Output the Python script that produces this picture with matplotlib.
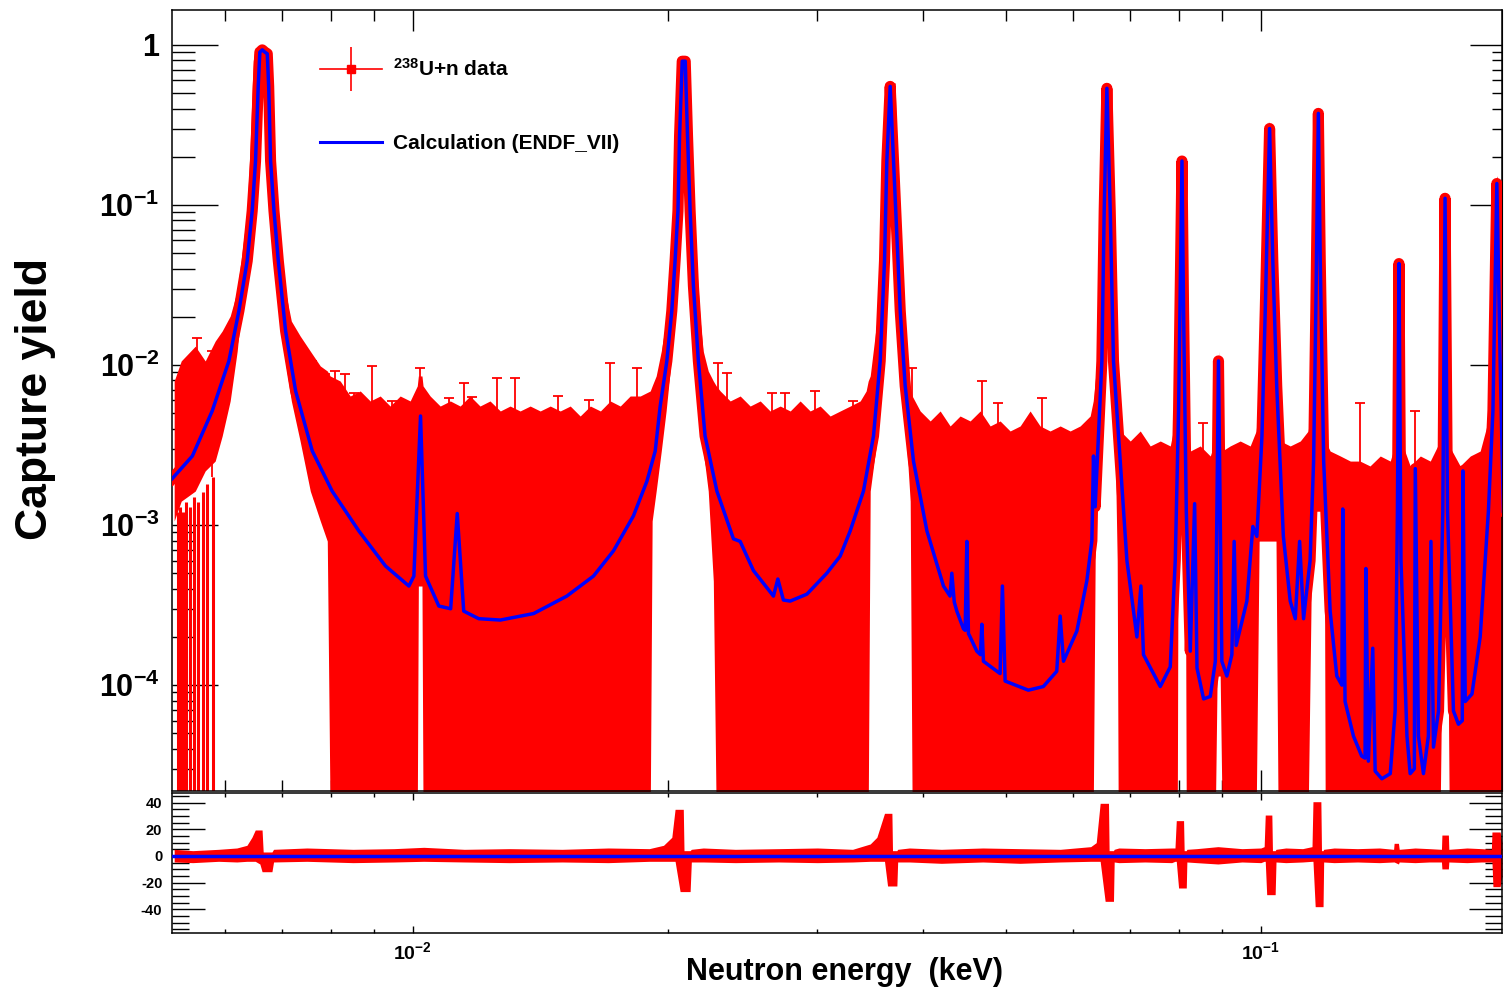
import numpy as np
import matplotlib
matplotlib.use("Agg")
import matplotlib.pyplot as plt
from matplotlib.lines import Line2D
from matplotlib.legend_handler import HandlerTuple
from matplotlib.ticker import (LogLocator, FixedLocator, FixedFormatter,
                               MultipleLocator, NullFormatter)

# ---- fonts (ROOT-like bold Helvetica) ----
plt.rcParams["font.family"] = ["Liberation Sans", "DejaVu Sans"]
plt.rcParams["font.weight"] = "bold"
plt.rcParams["mathtext.fontset"] = "custom"
plt.rcParams["mathtext.rm"] = "Liberation Sans:bold"
plt.rcParams["mathtext.bf"] = "Liberation Sans:bold"
plt.rcParams["mathtext.it"] = "Liberation Sans:bold"
plt.rcParams["mathtext.sf"] = "Liberation Sans:bold"
plt.rcParams["axes.unicode_minus"] = False

RED = "#ff0000"
BLUE = "#0000ff"

# ---- DATA (energies in eV) ----
B = 1.5e-5  # lower end of error bars running past the bottom of the axis

# calculated capture yield (ENDF_VII): (energy eV, yield)
calc = [
    (5.202, 1.95e-3), (5.495, 2.70e-3), (5.799, 5.16e-3), (6.068, 1.06e-2),
    (6.235, 2.18e-2), (6.377, 4.47e-2), (6.464, 9.17e-2), (6.523, 0.188),
    (6.571, 0.554), (6.60, 0.90), (6.643, 0.93), (6.69, 0.90), (6.734, 0.88),
    (6.76, 0.55), (6.795, 0.188), (6.858, 9.17e-2), (6.939, 4.47e-2),
    (7.078, 1.63e-2), (7.273, 6.88e-3), (7.610, 2.9e-3), (8.031, 1.63e-3),
    (8.637, 9.17e-4), (9.283, 5.55e-4), (9.892, 4.16e-4), (10.027, 4.8e-4),
    (10.21, 4.8e-3), (10.35, 4.8e-4), (10.73, 3.12e-4), (11.08, 3.0e-4),
    (11.28, 1.18e-3), (11.48, 2.9e-4), (11.96, 2.6e-4), (12.68, 2.55e-4),
    (13.88, 2.8e-4), (15.19, 3.6e-4), (16.33, 4.8e-4), (17.24, 6.9e-4),
    (18.20, 1.14e-3), (18.88, 1.88e-3), (19.31, 2.9e-3), (19.57, 5.5e-3),
    (19.93, 1.06e-2), (20.20, 2.18e-2), (20.38, 4.47e-2), (20.54, 9.17e-2),
    (20.63, 0.27), (20.78, 0.79), (20.95, 0.79), (21.08, 0.27),
    (21.23, 9.17e-2), (21.42, 3.12e-2), (21.71, 1.06e-2), (22.11, 3.6e-3),
    (22.83, 1.63e-3), (23.88, 8.2e-4), (24.32, 7.9e-4), (25.21, 5.2e-4),
    (26.62, 3.6e-4), (26.94, 4.6e-4), (27.35, 3.4e-4), (27.86, 3.35e-4),
    (29.15, 3.7e-4), (30.77, 5.0e-4), (31.91, 6.4e-4), (32.79, 9.2e-4),
    (33.99, 1.63e-3), (34.93, 3.6e-3), (35.57, 1.06e-2), (35.99, 4.47e-2),
    (36.22, 0.188), (36.55, 0.55), (36.88, 0.188), (37.22, 6.4e-2),
    (37.56, 2.18e-2), (38.07, 7.4e-3), (38.94, 2.5e-3), (40.38, 9.2e-4),
    (42.24, 4.16e-4), (43.0, 3.6e-4), (43.21, 5.0e-4), (43.5, 3.3e-4),
    (43.80, 2.9e-4), (44.59, 2.25e-4), (44.8, 2.2e-4), (45.01, 7.9e-4),
    (45.2, 2.1e-4), (45.41, 2.0e-4), (46.24, 1.63e-4), (46.7, 1.55e-4),
    (46.88, 2.4e-4), (47.08, 1.41e-4), (49.26, 1.18e-4), (49.57, 4.16e-4),
    (49.94, 1.06e-4), (53.19, 9.3e-5), (55.40, 9.8e-5), (57.45, 1.22e-4),
    (57.99, 2.7e-4), (58.51, 1.41e-4), (60.68, 2.18e-4), (62.35, 4.5e-4),
    (63.2, 8.0e-4), (63.48, 2.7e-3), (63.77, 1.3e-3), (64.94, 1.06e-2),
    (65.35, 9.17e-2), (65.83, 0.535), (66.43, 9.17e-2), (67.02, 1.06e-2),
    (67.95, 3.6e-3), (69.51, 6.0e-4), (71.42, 2.0e-4), (72.20, 4.16e-4),
    (72.71, 1.55e-4), (76.10, 9.8e-5), (78.19, 1.3e-4), (79.26, 6.0e-4),
    (79.98, 5.2e-3), (80.35, 3.1e-2), (80.72, 0.188), (81.07, 2.18e-2),
    (81.67, 1.22e-3), (82.56, 1.63e-4), (83.54, 1.36e-3), (84.08, 1.28e-4),
    (85.60, 8.2e-5), (87.17, 8.5e-5), (88.37, 1.41e-4), (89.13, 1.06e-2),
    (89.95, 1.41e-4), (91.18, 1.14e-4), (92.43, 1.55e-4), (93.01, 7.9e-4),
    (93.52, 1.77e-4), (96.27, 3.35e-4), (97.85, 9.8e-4), (98.92, 8.5e-4),
    (100.3, 3.6e-3), (101.2, 2.18e-2), (102.4, 0.30), (103.3, 4.47e-2),
    (104.4, 7.4e-3), (106.3, 8.5e-4), (108.3, 3.35e-4), (109.8, 2.6e-4),
    (111.1, 7.9e-4), (112.3, 2.6e-4), (114.3, 6.0e-4), (115.4, 2.5e-3),
    (116.1, 2.18e-2), (116.9, 0.373), (117.5, 4.47e-2), (118.6, 2.5e-3),
    (120.7, 2.9e-4), (122.9, 1.14e-4), (124.6, 1.0e-4), (124.9, 1.26e-3),
    (125.7, 7.9e-5), (128.6, 4.8e-5), (131.5, 3.6e-5), (132.7, 3.5e-5),
    (133.0, 5.35e-4), (133.9, 3.35e-5), (135.5, 1.7e-4), (136.4, 2.9e-5),
    (138.9, 2.6e-5), (142.1, 2.8e-5), (144.0, 6.9e-5), (144.9, 1.22e-3),
    (145.5, 4.3e-2), (146.3, 6.0e-4), (148.7, 4.8e-5), (150.0, 2.8e-5),
    (151.7, 3.0e-5), (152.1, 2.25e-3), (153.4, 4.8e-5), (155.5, 2.8e-5),
    (157.6, 4.8e-5), (158.7, 7.9e-4), (159.8, 4.1e-5), (162.0, 6.9e-5),
    (163.9, 1.22e-3), (164.9, 0.11), (166.0, 1.22e-3), (168.7, 6.9e-5),
    (171.0, 5.7e-5), (172.8, 6.0e-5), (173.1, 2.18e-3), (174.2, 7.9e-5),
    (177.4, 8.8e-5), (181.4, 2.0e-4), (185.5, 1.22e-3), (187.8, 5.2e-3),
    (189.8, 0.136), (191.5, 1.06e-2), (193.2, 1.22e-3),
]

# measured 238U+n data, envelope of points and error bars: (energy eV, top, bottom)
data_band = [
    (5.230, 7.94e-3, 1.06e-3), (5.331, 1.06e-2, 1.41e-3), (5.538, 1.31e-2, 1.63e-3),
    (5.690, 1.06e-2, 2.18e-3), (5.846, 1.41e-2, 2.51e-3), (5.958, 1.63e-2, 3.6e-3),
    (6.089, 2.02e-2, 5.96e-3), (6.206, 2.9e-2, 1.22e-2), (6.291, 5.16e-2, 2.51e-2),
    (6.377, 9.17e-2, 6.4e-2), (6.430, 0.251, 0.152), (6.482, 0.794, 0.447),
    (6.518, 0.958, 0.794), (6.753, 0.958, 0.794), (6.808, 0.447, 0.122),
    (6.845, 0.234, 6.4e-2), (6.901, 0.106, 3.35e-2), (6.958, 6.4e-2, 2.18e-2),
    (7.072, 2.9e-2, 1.06e-2), (7.189, 1.88e-2, 5.96e-3), (7.362, 1.52e-2, 3.35e-3),
    (7.569, 1.22e-2, 1.63e-3), (7.777, 9.86e-3, 1.06e-3), (7.926, 9.17e-3, 7.94e-4),
    (7.988, 8.54e-3, B), (8.209, 7.94e-3, B), (8.435, 6.4e-3, B), (8.668, 6.88e-3, B),
    (8.906, 5.96e-3, B), (9.151, 6.4e-3, B), (9.402, 5.54e-3, B), (9.661, 6.4e-3, B),
    (9.927, 5.96e-3, B), (10.12, 7.4e-3, B), (10.15, 8.54e-3, 4.16e-4),
    (10.25, 8.54e-3, 4.16e-4), (10.28, 7.4e-3, B), (10.48, 6.4e-3, B),
    (10.77, 5.54e-3, B), (11.07, 5.96e-3, B), (11.37, 5.54e-3, B), (11.68, 6.4e-3, B),
    (12.00, 5.54e-3, B), (12.33, 5.96e-3, B), (12.68, 5.16e-3, B), (13.02, 5.54e-3, B),
    (13.38, 5.16e-3, B), (13.75, 5.54e-3, B), (14.13, 5.16e-3, B), (14.52, 5.54e-3, B),
    (14.92, 5.16e-3, B), (15.33, 5.54e-3, B), (15.75, 4.8e-3, B), (16.19, 5.54e-3, B),
    (16.64, 5.16e-3, B), (17.09, 5.96e-3, B), (17.56, 5.54e-3, B), (18.04, 6.4e-3, B),
    (18.54, 6.4e-3, B), (19.05, 6.88e-3, B), (19.15, 7.4e-3, 1.06e-3),
    (19.36, 8.54e-3, 1.63e-3), (19.63, 1.22e-2, 2.9e-3), (19.89, 1.88e-2, 5.16e-3),
    (20.11, 3.12e-2, 9.17e-3), (20.27, 5.96e-2, 1.63e-2), (20.44, 0.163, 3.35e-2),
    (20.55, 0.447, 7.94e-2), (20.66, 0.829, 0.29), (21.12, 0.829, 0.251),
    (21.23, 0.335, 5.16e-2), (21.35, 0.163, 2.51e-2), (21.52, 5.96e-2, 1.22e-2),
    (21.82, 1.88e-2, 5.96e-3), (22.00, 1.22e-2, 2.9e-3), (22.30, 9.17e-3, 1.63e-3),
    (22.61, 7.94e-3, 4.47e-4), (22.79, 7.4e-3, B), (23.04, 6.88e-3, B),
    (23.67, 5.96e-3, B), (24.32, 6.4e-3, B), (24.99, 5.54e-3, B), (25.68, 5.96e-3, B),
    (26.38, 5.16e-3, B), (27.11, 5.54e-3, B), (27.86, 5.16e-3, B), (28.62, 5.96e-3, B),
    (29.41, 5.16e-3, B), (30.22, 5.54e-3, B), (31.05, 4.8e-3, B), (31.91, 5.16e-3, B),
    (32.79, 5.54e-3, B), (33.69, 5.96e-3, B), (34.24, 6.88e-3, B), (34.43, 7.94e-3, B),
    (34.62, 8.54e-3, 1.63e-3), (35.25, 1.88e-2, 3.35e-3), (35.57, 3.87e-2, 5.96e-3),
    (35.73, 9.17e-2, 1.06e-2), (35.89, 0.218, 1.88e-2), (36.06, 0.579, 4.47e-2),
    (36.55, 0.579, 0.387), (37.05, 0.579, 5.96e-2), (37.22, 0.188, 2.9e-2),
    (37.56, 4.47e-2, 1.22e-2), (38.07, 1.41e-2, 4.47e-3), (38.59, 7.4e-3, 1.41e-3),
    (38.80, 6.4e-3, B), (39.65, 5.16e-3, B), (40.74, 4.47e-3, B), (41.86, 5.16e-3, B),
    (43.01, 4.16e-3, B), (44.19, 4.8e-3, B), (45.41, 4.47e-3, B), (46.67, 5.16e-3, B),
    (47.95, 4.16e-3, B), (49.26, 4.47e-3, B), (50.62, 3.87e-3, B), (52.02, 4.16e-3, B),
    (53.44, 5.16e-3, B), (54.91, 4.16e-3, B), (56.42, 3.87e-3, B), (57.99, 4.16e-3, B),
    (59.58, 3.87e-3, B), (61.22, 4.16e-3, B), (62.91, 4.8e-3, B), (63.43, 5.96e-3, B),
    (63.77, 7.94e-3, 6.0e-4), (64.30, 1.22e-2, 3.35e-3), (64.94, 2.9e-2, 5.96e-3),
    (65.23, 0.106, 2.51e-2), (65.44, 0.554, 0.106), (65.83, 0.554, 0.387),
    (66.61, 0.554, 5.16e-2), (66.92, 5.16e-2, 7.94e-3), (67.34, 1.06e-2, 2.9e-3),
    (67.70, 5.16e-3, 6.0e-4), (67.89, 4.47e-3, B), (68.26, 3.87e-3, B),
    (70.14, 3.35e-3, B), (72.07, 3.87e-3, B), (74.05, 3.12e-3, B), (76.10, 3.35e-3, B),
    (78.19, 3.12e-3, B), (79.26, 4.47e-3, B), (79.70, 4.47e-3, B),
    (79.88, 7.94e-3, 1.06e-3), (80.35, 5.96e-2, 1.06e-3), (80.64, 0.202, 1.06e-3),
    (81.08, 5.96e-2, 1.06e-3), (81.45, 4.47e-3, 1.06e-3), (81.67, 3.35e-3, B),
    (82.56, 2.9e-3, B), (84.82, 3.12e-3, B), (87.17, 2.7e-3, B), (88.37, 3.35e-3, B),
    (88.81, 4.47e-3, 1.14e-4), (89.18, 1.22e-2, 1.14e-4), (89.54, 4.47e-3, 1.14e-4),
    (90.03, 2.9e-3, B), (92.00, 3.12e-3, B), (94.54, 3.35e-3, B), (97.14, 3.12e-3, B),
    (98.73, 3.87e-3, B), (99.54, 5.96e-3, 7.94e-4), (100.35, 1.41e-2, 7.94e-4),
    (101.2, 5.16e-2, 7.94e-4), (101.7, 0.251, 7.94e-4), (102.1, 0.335, 7.94e-4),
    (102.8, 0.251, 7.94e-4), (103.4, 5.16e-2, 7.94e-4), (104.2, 7.94e-3, 7.94e-4),
    (104.8, 3.87e-3, B), (105.4, 3.35e-3, B), (108.3, 3.12e-3, B), (111.3, 3.35e-3, B),
    (113.7, 3.87e-3, B), (115.0, 5.96e-3, 1.22e-3), (115.9, 5.16e-2, 1.22e-3),
    (116.5, 0.387, 1.22e-3), (117.3, 0.387, 1.22e-3), (117.8, 5.16e-2, 1.22e-3),
    (118.8, 4.47e-3, 1.22e-3), (119.1, 3.35e-3, B), (120.7, 2.9e-3, B),
    (124.1, 2.7e-3, B), (127.5, 2.51e-3, B), (130.9, 2.51e-3, B), (134.5, 2.34e-3, B),
    (138.3, 2.7e-3, B), (142.1, 2.51e-3, B), (144.4, 3.35e-3, B), (145.5, 4.8e-2, B),
    (146.4, 3.35e-3, B), (150.0, 2.34e-3, B), (154.2, 2.7e-3, B), (158.4, 2.51e-3, B),
    (162.7, 3.35e-3, B), (164.1, 2.51e-2, 6.0e-4), (164.9, 0.114, 6.0e-4),
    (165.9, 2.51e-2, 6.0e-4), (166.8, 3.12e-3, B), (171.8, 2.34e-3, B),
    (176.6, 2.7e-3, B), (181.4, 2.9e-3, B), (185.4, 4.47e-3, B), (187.4, 1.63e-2, B),
    (189.0, 0.141, B), (190.0, 0.152, B), (191.5, 2.51e-2, B), (192.5, 1.22e-2, B),
]

# isolated long error bars at the low-energy end: (energy eV, top)
long_bars = [
    (5.290, 1.2e-3), (5.316, 1.3e-3), (5.360, 1.2e-3), (5.404, 1.4e-3),
    (5.463, 1.3e-3), (5.523, 1.5e-3), (5.583, 1.4e-3), (5.655, 1.6e-3),
    (5.721, 1.8e-3), (5.815, 2.0e-3),
]

# single error bars sticking out above the data band: (energy eV, top)
tall_bars = [
    (5.568, 1.48e-2), (5.799, 1.22e-2), (7.610, 1.06e-2), (7.883, 8.79e-3),
    (8.096, 9.17e-3), (8.321, 8.79e-3), (8.527, 6.68e-3), (8.954, 9.86e-3),
    (9.454, 5.96e-3), (10.20, 9.58e-3), (11.04, 6.22e-3), (11.50, 7.72e-3),
    (11.75, 6.31e-3), (12.57, 8.3e-3), (13.20, 8.3e-3), (14.84, 6.4e-3),
    (16.14, 6.05e-3), (17.09, 1.03e-2), (18.39, 9.58e-3), (22.91, 1.03e-2),
    (23.48, 8.91e-3), (26.53, 6.68e-3), (27.48, 6.68e-3), (29.81, 6.88e-3),
    (33.05, 5.96e-3), (38.80, 9.58e-3), (46.92, 7.94e-3), (48.99, 5.79e-3),
    (55.21, 6.22e-3), (85.54, 4.34e-3), (130.9, 5.79e-3), (152.1, 5.16e-3),
]

# residuals (data - calc)/error: (energy eV, top, bottom)
residual_band = [
    (5.23, 5, -4.5), (5.5, 4, -5), (5.9, 5, -4), (6.2, 6, -4.5),
    (6.372, 8, -4), (6.459, 14, -4), (6.518, 19.5, -4), (6.60, 19.5, -6),
    (6.64, 19.5, -11.8), (6.66, 3, -11.8), (6.82, 3, -11.8), (6.85, 5, -4.5),
    (7.5, 6, -4), (8.5, 5, -5), (9.5, 5.5, -4.5), (10.3, 6.5, -4), (11.5, 5, -4.5),
    (13.0, 5.5, -5), (15.0, 5, -4.5), (17.0, 6, -5), (19.0, 5.5, -4),
    (19.75, 8, -4), (20.20, 14, -4), (20.38, 35, -4), (20.66, 35, -26.7),
    (20.84, 35, -26.7), (20.88, 4, -26.7), (21.23, 4, -26.7), (21.30, 5, -4.5),
    (22.0, 6, -4.5), (24.0, 5, -5), (27.0, 5.5, -4.5), (30.0, 6, -5), (33.0, 5, -4.5),
    (34.62, 9, -4), (35.25, 14, -4), (35.99, 32, -4), (36.29, 32, -22.5),
    (36.72, 32, -22.5), (36.78, 4, -22.5), (37.22, 4, -22.5), (37.30, 5, -4.5),
    (38.5, 6, -4.5), (42.0, 5, -5.5), (47.0, 6, -4.5), (52.0, 5.5, -5.5),
    (58.0, 5, -4.5), (63.0, 7, -4), (63.95, 10, -4), (64.64, 39.5, -4),
    (65.52, 39.5, -34), (66.12, 39.5, -34), (66.23, 4, -34), (67.02, 4, -34),
    (67.15, 5, -4.5), (68.0, 6, -5), (73.0, 5.5, -4.5), (78.5, 6, -5),
    (79.2, 6, -4), (79.48, 26.5, -4), (79.98, 26.5, -24), (81.07, 26.5, -24),
    (81.20, 4, -24), (81.67, 4, -24), (81.80, 5, -4.5), (84.0, 5.5, -5),
    (89.0, 7, -6), (95.0, 5.5, -4.5), (100.0, 6, -5), (100.9, 7, -4),
    (101.2, 30.7, -4), (101.6, 30.7, -29), (103.03, 30.7, -29), (103.2, 4, -29),
    (103.96, 4, -29), (104.2, 5, -4.5), (107.0, 6, -5), (112.0, 5.5, -4.5),
    (114.9, 7, -4), (115.2, 40.7, -4), (115.9, 40.7, -38), (117.7, 40.7, -38),
    (117.9, 4, -38), (118.4, 4, -38), (118.6, 5, -4.5), (122.0, 6, -5),
    (130.0, 5.5, -4.5), (138.0, 6, -5), (143.4, 5, -4.5), (143.6, 9.5, -4.5),
    (145.3, 9.5, -6), (145.6, 5, -4.5), (152.0, 6, -5), (158.0, 5.5, -4.5),
    (163.3, 5, -4.5), (163.5, 15.7, -9.7), (166.4, 15.7, -9.7), (166.6, 5, -4.5),
    (175.0, 6, -5), (182.0, 5.5, -4.5), (187.0, 5, -4.5), (187.3, 18, -4.5),
    (187.8, 18, -23), (191.5, 18, -23), (192.5, 10, -15),
]

y_major = [1e-4, 1e-3, 1e-2, 1e-1, 1.0]
y_labels = ["$10^{-4}$", "$10^{-3}$", "$10^{-2}$", "$10^{-1}$", "1"]
x_major = [1e-2, 1e-1]
x_labels = ["$10^{-2}$", "$10^{-1}$"]
r_major = [-40, -20, 0, 20, 40]
r_labels = ["-40", "-20", "0", "20", "40"]

# ---- unpack ----
calc_e = np.array([p[0] for p in calc]) / 1000.0
calc_y = np.array([p[1] for p in calc])
band_e = np.array([p[0] for p in data_band]) / 1000.0
band_hi = np.array([p[1] for p in data_band])
band_lo = np.array([p[2] for p in data_band])
bar_e = np.array([p[0] for p in long_bars]) / 1000.0
bar_top = np.array([p[1] for p in long_bars])
tall_e = np.array([p[0] for p in tall_bars]) / 1000.0
tall_top = np.array([p[1] for p in tall_bars])
res_e = np.array([p[0] for p in residual_band]) / 1000.0
res_hi = np.array([p[1] for p in residual_band])
res_lo = np.array([p[2] for p in residual_band])

XMIN, XMAX = 5.20e-3, 0.1925

fig = plt.figure(figsize=(15.04, 9.92), dpi=100)
ax = fig.add_axes([0.1144, 0.2026, 0.8843, 0.7873])
axr = fig.add_axes([0.1144, 0.0598, 0.8843, 0.1405], sharex=ax)

# ---- main panel ----
ax.fill_between(band_e, band_lo, band_hi, color=RED, lw=0, zorder=2)
ax.vlines(bar_e, B, bar_top, colors=RED, lw=2.2, zorder=2)
ax.vlines(tall_e, 2e-3, tall_top, colors=RED, lw=1.3, zorder=2)
ax.plot(tall_e, tall_top, ls="none", marker="_", ms=7, mew=1.3, color=RED, zorder=2)
ax.plot(calc_e, calc_y, color=RED, lw=8, solid_joinstyle="round", zorder=3)
ax.plot(calc_e, calc_y, color=BLUE, lw=2.5, zorder=4)

ax.set_xscale("log")
ax.set_yscale("log")
ax.set_xlim(XMIN, XMAX)
ax.set_ylim(2.18e-5, 1.65)

ax.yaxis.set_major_locator(FixedLocator(y_major))
ax.yaxis.set_major_formatter(FixedFormatter(y_labels))
ax.yaxis.set_minor_locator(LogLocator(base=10, subs=np.arange(2, 10), numticks=20))
ax.yaxis.set_minor_formatter(NullFormatter())
ax.tick_params(axis="y", which="major", direction="in", length=33, width=1,
               labelsize=22, pad=9, left=True, right=False)
ax.tick_params(axis="y", which="minor", direction="in", length=16.5, width=1,
               left=True, right=False)

ax.xaxis.set_major_locator(FixedLocator(x_major))
ax.xaxis.set_minor_locator(LogLocator(base=10, subs=np.arange(2, 10), numticks=20))
ax.tick_params(axis="x", which="major", direction="in", length=15, width=1,
               top=True, bottom=True, labelbottom=False)
ax.tick_params(axis="x", which="minor", direction="in", length=8, width=1,
               top=True, bottom=True, labelbottom=False)

sec = ax.secondary_yaxis("right")
sec.yaxis.set_major_locator(FixedLocator(y_major))
sec.yaxis.set_minor_locator(LogLocator(base=10, subs=np.arange(2, 10), numticks=20))
sec.yaxis.set_major_formatter(NullFormatter())
sec.yaxis.set_minor_formatter(NullFormatter())
sec.tick_params(which="major", direction="in", length=23, width=1)
sec.tick_params(which="minor", direction="in", length=7, width=1)

for s in ax.spines.values():
    s.set_linewidth(1.1)

h_data = (Line2D([], [], color=RED, lw=1.2, marker="s", ms=6),
          Line2D([], [], color=RED, ls="none", marker="|", ms=32, mew=1.2))
h_calc = Line2D([], [], color=BLUE, lw=2.2)
ax.legend([h_data, h_calc], ["$^{238}$U+n data", "Calculation (ENDF_VII)"],
          handler_map={tuple: HandlerTuple(ndivide=1)},
          loc="upper left", bbox_to_anchor=(0.111, 0.9385), frameon=False,
          fontsize=15, handlelength=3.0, handletextpad=0.5, labelspacing=2.6,
          borderpad=0, borderaxespad=0)

# ---- residual panel ----
axr.fill_between(res_e, res_lo, res_hi, color=RED, lw=0, zorder=2)
axr.axhline(0, color=BLUE, lw=2.5, zorder=3)
axr.set_ylim(-57.5, 47)
axr.yaxis.set_major_locator(FixedLocator(r_major))
axr.yaxis.set_major_formatter(FixedFormatter(r_labels))
axr.yaxis.set_minor_locator(MultipleLocator(5))
axr.tick_params(axis="y", which="major", direction="in", length=24, width=1,
                labelsize=10.5, pad=7, left=True, right=True)
axr.tick_params(axis="y", which="minor", direction="in", length=12, width=1,
                left=True, right=True)
axr.xaxis.set_major_locator(FixedLocator(x_major))
axr.xaxis.set_major_formatter(FixedFormatter(x_labels))
axr.xaxis.set_minor_locator(LogLocator(base=10, subs=np.arange(2, 10), numticks=20))
axr.xaxis.set_minor_formatter(NullFormatter())
axr.tick_params(axis="x", which="major", direction="in", length=5, width=1,
                labelsize=14, pad=6, top=True, bottom=True)
axr.tick_params(axis="x", which="minor", direction="in", length=3, width=1,
                top=True, bottom=True)
for s in axr.spines.values():
    s.set_linewidth(1.1)

fig.text(0.0233, 0.598, "Capture yield", rotation=90, fontsize=32,
         ha="center", va="center")
fig.text(0.5612, 0.0202, "Neutron energy  (keV)", fontsize=22,
         ha="center", va="center")

fig.savefig("out.png", dpi=100)
